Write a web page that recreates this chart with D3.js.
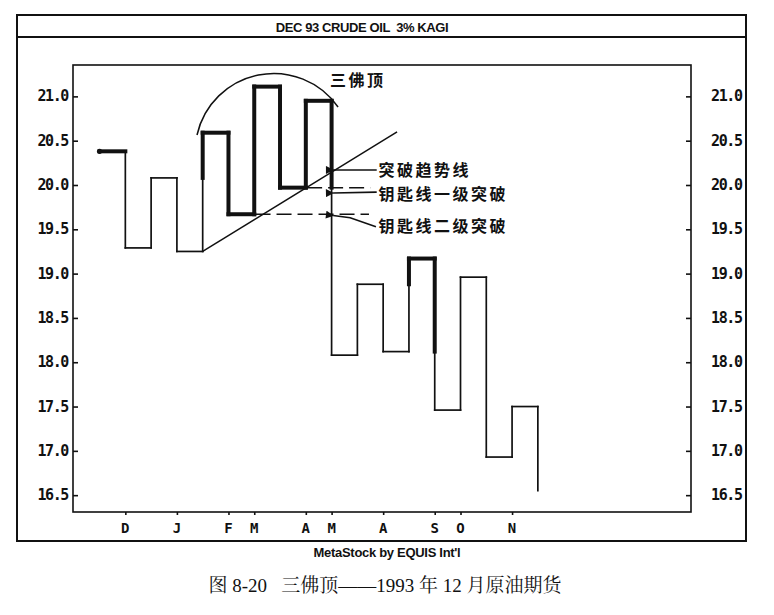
<!DOCTYPE html>
<html>
<head>
<meta charset="utf-8">
<script src="https://cdn.jsdelivr.net/npm/d3@7"></script>
<style>
  html, body { margin: 0; padding: 0; background: #fff; }
  svg { display: block; }
</style>
</head>
<body>
<div id="chart"></div>
<script>
// kagi turning prices
const startPrice = 20.38;
const turnPrices = [19.29, 20.08, 19.25, 20.59, 19.67, 21.11, 19.97, 20.95,
  18.08, 18.88, 18.12, 19.17, 17.46, 18.96, 16.93, 17.50, 16.55];

const monthLabels = ['D', 'J', 'F', 'M', 'A', 'M', 'A', 'S', 'O', 'N'];
const monthCols = [1, 3, 5, 6, 8, 9, 11, 13, 14, 16];
const priceTicks = [16.5, 17.0, 17.5, 18.0, 18.5, 19.0, 19.5, 20.0, 20.5, 21.0];

const width = 774, height = 615;
const frame = { left: 17, top: 15, right: 746, bottom: 541, band: 37 };
const plot = { left: 73, top: 65, right: 691, bottom: 512 };

const svg = d3.select('#chart')
  .append('svg')
  .attr('width', width)
  .attr('height', height)
  .attr('viewBox', `0 0 ${width} ${height}`);

const x_sc = d3.scaleLinear().domain([-1.03, 22.94]).range([plot.left, plot.right]);
const y_sc = d3.scaleLinear().domain([16.31, 21.354]).range([plot.bottom, plot.top]);

const ink = '#111';
const axisFont = '"DejaVu Sans Mono", monospace';
const cjkFont = '"Noto Sans CJK SC", sans-serif';

// outer frame + title band
svg.append('rect')
  .attr('x', frame.left).attr('y', frame.top)
  .attr('width', frame.right - frame.left).attr('height', frame.bottom - frame.top)
  .attr('fill', 'none').attr('stroke', ink).attr('stroke-width', 2);
svg.append('line')
  .attr('x1', frame.left).attr('x2', frame.right)
  .attr('y1', frame.band).attr('y2', frame.band)
  .attr('stroke', ink).attr('stroke-width', 1.8);

svg.append('text')
  .attr('x', 362).attr('y', 27)
  .attr('text-anchor', 'middle').attr('dominant-baseline', 'central')
  .style('font-family', '"Liberation Sans", Arial, sans-serif')
  .style('font-weight', 'bold').style('font-size', '13px')
  .style('letter-spacing', '-0.4px')
  .style('white-space', 'pre')
  .attr('fill', ink)
  .text('DEC 93 CRUDE OIL  3% KAGI');

// plot box
svg.append('rect')
  .attr('x', plot.left).attr('y', plot.top)
  .attr('width', plot.right - plot.left).attr('height', plot.bottom - plot.top)
  .attr('fill', 'none').attr('stroke', ink).attr('stroke-width', 1.6);

// y axes, ticks pointing into the plot
const leftAxis = svg.append('g')
  .attr('transform', `translate(${plot.left},0)`)
  .call(d3.axisRight(y_sc).tickValues(priceTicks).tickSize(5).tickPadding(0).tickFormat(() => ''));
const rightAxis = svg.append('g')
  .attr('transform', `translate(${plot.right},0)`)
  .call(d3.axisLeft(y_sc).tickValues(priceTicks).tickSize(5).tickPadding(0).tickFormat(() => ''));
[leftAxis, rightAxis].forEach(a => {
  a.select('.domain').remove();
  a.selectAll('line').attr('stroke', ink).attr('stroke-width', 1.6);
});

const yl = svg.append('g')
  .style('font-family', axisFont).style('font-weight', 'bold')
  .style('font-size', '15px').style('letter-spacing', '-1.4px')
  .attr('fill', ink);
yl.selectAll('.yl-left')
  .data(priceTicks)
  .enter().append('text')
  .attr('class', 'yl-left')
  .attr('x', 68).attr('y', d => y_sc(d))
  .attr('text-anchor', 'end').attr('dominant-baseline', 'central')
  .text(d => d3.format('.1f')(d));
yl.selectAll('.yl-right')
  .data(priceTicks)
  .enter().append('text')
  .attr('class', 'yl-right')
  .attr('x', 711).attr('y', d => y_sc(d))
  .attr('text-anchor', 'start').attr('dominant-baseline', 'central')
  .text(d => d3.format('.1f')(d));

// x axis month marks
const xAxis = svg.append('g')
  .attr('transform', `translate(0,${plot.bottom})`)
  .call(d3.axisBottom(x_sc).tickValues(monthCols).tickSize(3).tickPadding(0).tickFormat(() => ''));
xAxis.select('.domain').remove();
xAxis.selectAll('line').attr('stroke', ink).attr('stroke-width', 1.6);

svg.append('g')
  .style('font-family', axisFont).style('font-weight', 'bold')
  .style('font-size', '14px')
  .attr('fill', ink)
  .selectAll('text')
  .data(monthLabels)
  .enter().append('text')
  .attr('x', (d, i) => x_sc(monthCols[i]))
  .attr('y', 528)
  .attr('text-anchor', 'middle').attr('dominant-baseline', 'central')
  .text(d => d);

// kagi segments: thick (yang) / thin (yin)
const segs = [];
let yang = true, shoulder = startPrice, waist = startPrice, prev = startPrice;
segs.push({ x1: 0, x2: 1, v1: startPrice, v2: startPrice, thick: true });
turnPrices.forEach((v, k) => {
  const col = k + 1;
  if (v < prev) {
    if (yang && v < waist) {
      segs.push({ x1: col, x2: col, v1: prev, v2: waist, thick: true });
      segs.push({ x1: col, x2: col, v1: waist, v2: v, thick: false });
      yang = false;
    } else {
      segs.push({ x1: col, x2: col, v1: prev, v2: v, thick: yang });
    }
    waist = v;
  } else {
    if (!yang && v > shoulder) {
      segs.push({ x1: col, x2: col, v1: prev, v2: shoulder, thick: false });
      segs.push({ x1: col, x2: col, v1: shoulder, v2: v, thick: true });
      yang = true;
    } else {
      segs.push({ x1: col, x2: col, v1: prev, v2: v, thick: yang });
    }
    shoulder = v;
  }
  if (k < turnPrices.length - 1) {
    segs.push({ x1: col, x2: col + 1, v1: v, v2: v, thick: yang });
  }
  prev = v;
});

const kagi = svg.append('g');
kagi.selectAll('line.thin')
  .data(segs.filter(d => !d.thick))
  .enter().append('line')
  .attr('class', 'thin')
  .attr('x1', d => x_sc(d.x1)).attr('x2', d => x_sc(d.x2))
  .attr('y1', d => y_sc(d.v1)).attr('y2', d => y_sc(d.v2))
  .attr('stroke', ink).attr('stroke-width', 1.7).attr('stroke-linecap', 'square');
kagi.selectAll('line.thick')
  .data(segs.filter(d => d.thick && (d.v1 !== d.v2 || d.x1 !== d.x2)))
  .enter().append('line')
  .attr('class', 'thick')
  .attr('x1', d => x_sc(d.x1)).attr('x2', d => x_sc(d.x2))
  .attr('y1', d => y_sc(d.v1)).attr('y2', d => y_sc(d.v2))
  .attr('stroke', ink).attr('stroke-width', 4).attr('stroke-linecap', 'square');
kagi.append('circle')
  .attr('cx', x_sc(0)).attr('cy', y_sc(startPrice)).attr('r', 2.6)
  .attr('fill', ink);

// annotations
const ann = svg.append('g');

// arc over the three tops
const arcPts = [[3.78, 20.564], [6.42, 21.253], [9.25, 20.88]].map(p => [x_sc(p[0]), y_sc(p[1])]);
(function () {
  const [a, b, c] = arcPts;
  const d = 2 * (a[0] * (b[1] - c[1]) + b[0] * (c[1] - a[1]) + c[0] * (a[1] - b[1]));
  const sa = a[0] ** 2 + a[1] ** 2, sb = b[0] ** 2 + b[1] ** 2, sc = c[0] ** 2 + c[1] ** 2;
  const cx = (sa * (b[1] - c[1]) + sb * (c[1] - a[1]) + sc * (a[1] - b[1])) / d;
  const cy = (sa * (c[0] - b[0]) + sb * (a[0] - c[0]) + sc * (b[0] - a[0])) / d;
  const r = Math.hypot(a[0] - cx, a[1] - cy);
  ann.append('path')
    .attr('d', `M${a[0]},${a[1]} A${r},${r} 0 0 1 ${c[0]},${c[1]}`)
    .attr('fill', 'none').attr('stroke', ink).attr('stroke-width', 1.5);
})();

// trend line
const trendLine = [[4, 19.25], [11.54, 20.60]];
ann.append('line')
  .attr('x1', x_sc(trendLine[0][0])).attr('y1', y_sc(trendLine[0][1]))
  .attr('x2', x_sc(trendLine[1][0])).attr('y2', y_sc(trendLine[1][1]))
  .attr('stroke', ink).attr('stroke-width', 1.5);

// key lines (dashed)
const keyLines = [{ v: 19.97, from: 8.05, to: 10.5 }, { v: 19.67, from: 6.05, to: 10.45 }];
ann.selectAll('line.key')
  .data(keyLines)
  .enter().append('line')
  .attr('class', 'key')
  .attr('x1', d => x_sc(d.from)).attr('x2', d => x_sc(d.to))
  .attr('y1', d => y_sc(d.v)).attr('y2', d => y_sc(d.v))
  .attr('stroke', ink).attr('stroke-width', 1.5)
  .attr('stroke-dasharray', '15,6');

// arrows pointing at the breaks
svg.append('defs').append('marker')
  .attr('id', 'ah')
  .attr('viewBox', '0 0 10 10')
  .attr('refX', 1).attr('refY', 5)
  .attr('markerWidth', 6).attr('markerHeight', 5)
  .attr('orient', 'auto-start-reverse')
  .append('path').attr('d', 'M0,5 L10,0 L10,10 Z').attr('fill', ink);

const arrows = [
  [[9.06, 20.17], [10.75, 20.17]],
  [[9.06, 19.91], [10.75, 19.92]],
  [[9.06, 19.655], [9.72, 19.63], [10.72, 19.53]]
];
ann.selectAll('path.arrow')
  .data(arrows)
  .enter().append('path')
  .attr('class', 'arrow')
  .attr('d', d => d3.line()(d.map(p => [x_sc(p[0]), y_sc(p[1])])))
  .attr('fill', 'none').attr('stroke', ink).attr('stroke-width', 1.6)
  .attr('marker-start', 'url(#ah)');

const notes = [
  { text: '三佛顶', col: 8.94, v: 21.196 },
  { text: '突破趋势线', col: 10.82, v: 20.185 },
  { text: '钥匙线一级突破', col: 10.82, v: 19.915 },
  { text: '钥匙线二级突破', col: 10.82, v: 19.55 }
];
ann.selectAll('text.note')
  .data(notes)
  .enter().append('text')
  .attr('class', 'note')
  .attr('x', d => x_sc(d.col)).attr('y', d => y_sc(d.v))
  .attr('dominant-baseline', 'central')
  .style('font-family', cjkFont).style('font-weight', 'bold').style('font-size', '16px')
  .style('letter-spacing', '2.5px')
  .attr('fill', ink)
  .text(d => d.text);

// footer texts
svg.append('text')
  .attr('x', 387).attr('y', 552)
  .attr('text-anchor', 'middle').attr('dominant-baseline', 'central')
  .style('font-family', '"Liberation Sans", Arial, sans-serif')
  .style('font-weight', 'bold').style('font-size', '13px')
  .style('letter-spacing', '-0.3px')
  .attr('fill', ink)
  .text("MetaStock by EQUIS Int'l");

svg.append('text')
  .attr('x', 385).attr('y', 585)
  .attr('text-anchor', 'middle').attr('dominant-baseline', 'central')
  .style('font-family', '"Liberation Serif", "Noto Serif CJK SC", "Noto Sans CJK SC", serif')
  .style('font-size', '19px')
  .style('white-space', 'pre')
  .attr('fill', ink)
  .text('图 8-20   三佛顶——1993 年 12 月原油期货');
</script>
</body>
</html>
